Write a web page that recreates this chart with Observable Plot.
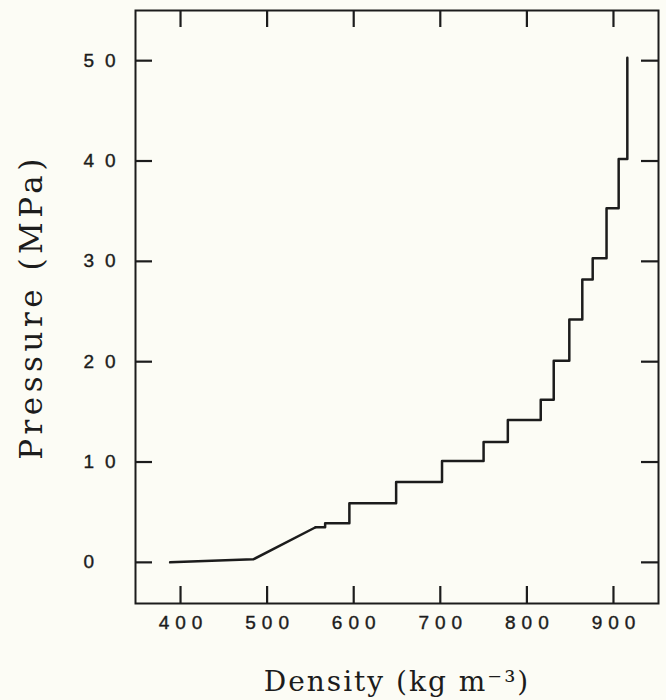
<!DOCTYPE html>
<html><head><meta charset="utf-8">
<script src="https://cdn.jsdelivr.net/npm/d3@7"></script>
<script src="https://cdn.jsdelivr.net/npm/@observablehq/plot@0.6"></script>
<style>
html,body{margin:0;padding:0;background:#fcfcf5;}
#chart [aria-label="x-axis tick label"]{letter-spacing:6px;font-size:19px;stroke:#1c1c1c;stroke-width:0.4px;}
#chart [aria-label="y-axis tick label"]{letter-spacing:11px;font-size:19px;stroke:#1c1c1c;stroke-width:0.4px;}
</style></head><body><div id="chart"></div>
<script>
// Tick values
const xTicks = [400, 500, 600, 700, 800, 900];
const yTicks = [0, 10, 20, 30, 40, 50];
// Sloping (early) part of the curve
const rampDensity = [388, 484, 556];
const rampPressure = [0, 0.3, 3.5];
// Stepped part: each pressure is held until the next density
const stepDensity = [556, 567, 595, 649, 702, 750, 778, 816, 831, 849, 864, 876, 892, 906, 916];
const stepPressure = [3.5, 3.9, 5.9, 8.0, 10.1, 12.0, 14.2, 16.2, 20.1, 24.2, 28.2, 30.3, 35.3, 40.2, 50.3];
// Axis titles
const xTitle = "Density (kg m⁻³)";
const yTitle = "Pressure (MPa)";

const ramp = rampDensity.map((d, i) => ({density: d, pressure: rampPressure[i]}));
const steps = stepDensity.map((d, i) => ({density: d, pressure: stepPressure[i]}));

const W = 666, H = 700, ML = 135, MR = 8, MT = 10, MB = 97;
const innerW = W - ML - MR, innerH = H - MT - MB, TL = 17;
const ink = "#1c1c1c";
const sans = "Liberation Sans, Arial, sans-serif";
const serif = "DejaVu Serif, serif";

const chart = Plot.plot({
  width: W, height: H,
  marginLeft: ML, marginRight: MR, marginTop: MT, marginBottom: MB,
  style: {background: "#fcfcf5", color: ink},
  x: {domain: [348, 952], label: null},
  y: {domain: [-4.1, 55], label: null},
  marks: [
    Plot.frame({stroke: ink, strokeWidth: 2}),
    Plot.ruleX(xTicks, {x: d => d, insetTop: innerH - TL, stroke: ink, strokeWidth: 2.2}),
    Plot.ruleX(xTicks, {x: d => d, insetBottom: innerH - TL, stroke: ink, strokeWidth: 2.2}),
    Plot.ruleY(yTicks, {y: d => d, insetRight: innerW - TL, stroke: ink, strokeWidth: 2.2}),
    Plot.ruleY(yTicks, {y: d => d, insetLeft: innerW - TL, stroke: ink, strokeWidth: 2.2}),
    Plot.axisX(xTicks, {tickSize: 0, tickPadding: 12, fontSize: 19, fontFamily: sans, dx: 3, label: null}),
    Plot.axisY(yTicks, {tickSize: 0, tickPadding: 52, textAnchor: "start", fontSize: 19, fontFamily: sans, label: null}),
    Plot.line(ramp, {x: "density", y: "pressure", stroke: ink, strokeWidth: 2.5}),
    Plot.line(steps, {x: "density", y: "pressure", stroke: ink, strokeWidth: 2.5, curve: "step-after"}),
    Plot.text([yTitle], {text: d => d, frameAnchor: "left", textAnchor: "middle", dx: -94, rotate: -90, lineAnchor: "bottom", fontSize: 31, fontFamily: serif, fill: ink}),
    Plot.text([xTitle], {text: d => d, frameAnchor: "bottom", textAnchor: "middle", dy: 87, lineAnchor: "bottom", fontSize: 28, fontFamily: serif, fill: ink})
  ]
});
d3.select(chart).selectAll("text").each(function () {
  const t = this.textContent;
  if (t === yTitle) this.style.letterSpacing = "4.5px";
  if (t === xTitle) this.style.letterSpacing = "2px";
});
document.getElementById("chart").appendChild(chart);
</script></body></html>
